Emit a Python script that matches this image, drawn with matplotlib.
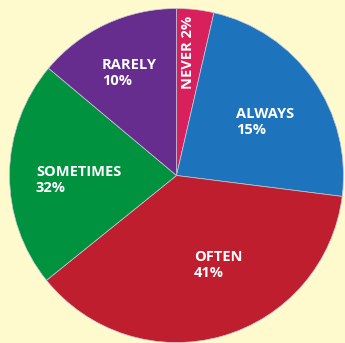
import matplotlib.pyplot as plt

# slice labels and printed percentages
labels = ['NEVER', 'ALWAYS', 'OFTEN', 'SOMETIMES', 'RARELY']
pct_text = ['2%', '15%', '41%', '32%', '10%']
# slice sizes as drawn in the picture (the artwork is not to scale)
sizes = [3.6, 23.4, 37.2, 21.9, 13.9]
colors = ['#D7205C', '#1E74BC', '#BE1E2D', '#00923F', '#662D8F']

bg = '#FFFACD'
W, H = 345, 343

fig = plt.figure(figsize=(W / 100, H / 100), dpi=100, facecolor=bg)
ax = fig.add_axes([0, 0, 1, 1])
ax.set_facecolor(bg)

cx, cy, r = 176.5, 175.5, 167
ax.pie(sizes, colors=colors, startangle=90, counterclock=False,
       center=(cx, H - cy), radius=r,
       wedgeprops=dict(edgecolor='#C8C8D8', linewidth=0.5))
ax.set_xlim(0, W)
ax.set_ylim(0, H)
ax.axis('off')

font = dict(family='Open Sans', weight='bold', color='white', fontsize=10.5)

# label anchors in pixels from top-left (left edge, top of first line)
pos = {'RARELY': (102, 58), 'ALWAYS': (236, 107),
       'SOMETIMES': (36, 165), 'OFTEN': (194, 250)}
for lab, p in zip(labels, pct_text):
    if lab == 'NEVER':
        ax.text(188, H - 89, lab + ' ' + p, rotation=90, ha='center', va='bottom', **font)
        continue
    x, y = pos[lab]
    ax.text(x, H - y, lab + '\n' + p, ha='left', va='top', linespacing=1.2, **font)

fig.savefig('out.png', dpi=100, facecolor=bg)
